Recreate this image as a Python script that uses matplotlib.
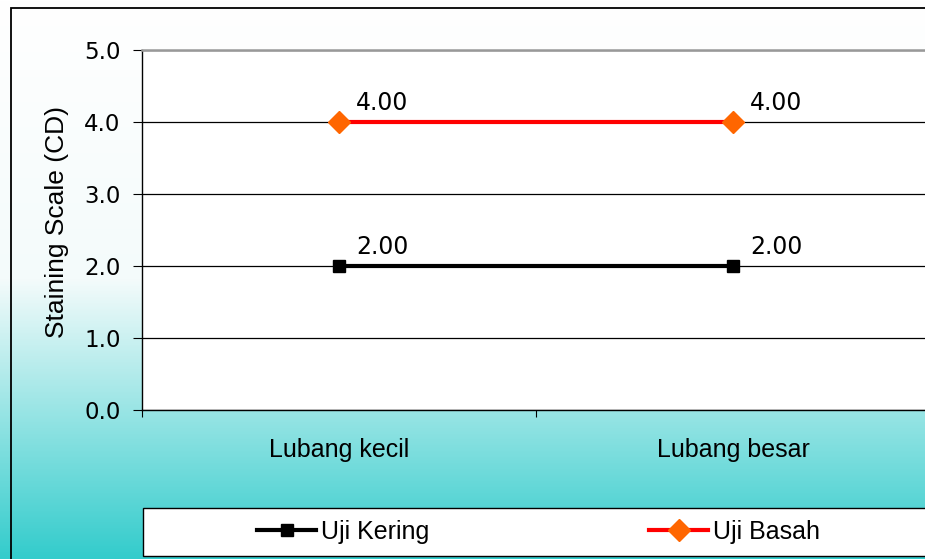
import numpy as np
import matplotlib
matplotlib.use('Agg')
import matplotlib.pyplot as plt
from matplotlib.colors import LinearSegmentedColormap
from matplotlib.patches import Rectangle

categories = ['Lubang kecil', 'Lubang besar']
uji_kering = [2.00, 2.00]
uji_basah = [4.00, 4.00]
y_ticks = [0.0, 1.0, 2.0, 3.0, 4.0, 5.0]

W, H = 925, 559
fig = plt.figure(figsize=(W / 100, H / 100), dpi=100)

# background gradient white -> teal
bg = fig.add_axes([0, 0, 1, 1], zorder=-10)
grad = np.linspace(0, 1, 256).reshape(-1, 1)
cmap = LinearSegmentedColormap.from_list('bg', ['#ffffff', '#f4fbfb', '#33cccc'], N=256)
bg.imshow(grad, aspect='auto', cmap=cmap, extent=[0, 1, 0, 1], origin='upper')
bg.set_xlim(0, 1)
bg.set_ylim(0, 1)
bg.axis('off')
bg.add_patch(Rectangle((11 / W, -0.1), 1.2, 1 - 8 / H + 0.1, fill=False,
                       edgecolor='black', linewidth=1.3))

# legend box
bg.add_patch(Rectangle((143 / W, (H - 556) / H), 1.2, 48 / H, facecolor='white',
                       edgecolor='black', linewidth=1.0, zorder=2))

ax = fig.add_axes([142 / W, (H - 410) / H, (930 - 142) / W, 360 / H])
x = np.arange(len(categories))
l1, = ax.plot(x, uji_kering, color='black', linewidth=3, marker='s',
              markersize=8.5, markerfacecolor='black', label='Uji Kering', zorder=3)
l2, = ax.plot(x, uji_basah, color='#ff0000', linewidth=3, marker='D',
              markersize=11, markerfacecolor='#ff6600', markeredgecolor='#ff6600',
              label='Uji Basah', zorder=3)

for vals in (uji_kering, uji_basah):
    for xi, v in zip(x, vals):
        ax.annotate(f'{v:.2f}', (xi, v), xytext=(12.5, 8.6), textcoords='offset points',
                    fontsize=17, family='DejaVu Sans', ha='left', va='baseline')

ax.set_xlim(-0.5, len(categories) - 0.5)
ax.set_ylim(0, 5)
ax.set_yticks(y_ticks)
ax.set_yticklabels([f'{t:.1f}' for t in y_ticks], fontsize=16.5, family='DejaVu Sans')
ax.set_xticks(x)
ax.set_xticklabels(categories, fontsize=18, family='Liberation Sans')
ax.set_xticks(np.arange(-0.5, len(categories)), minor=True)
ax.tick_params(axis='x', which='major', length=0, pad=20)
ax.tick_params(axis='x', which='minor', length=5, direction='out', width=0.8)
ax.tick_params(axis='y', length=6.5, direction='out', width=0.8, pad=9)
ax.grid(axis='y', color='black', linewidth=0.9)
ax.set_axisbelow(True)
ax.spines['top'].set_color('#999999')
ax.spines['top'].set_linewidth(1.8)
ax.spines['right'].set_visible(False)
ax.spines['left'].set_linewidth(1.0)
ax.spines['bottom'].set_linewidth(1.0)

fig.text(57 / W, 1 - 222 / H, 'Staining Scale (CD)', rotation=90, ha='center', va='center',
         fontsize=19, family='Liberation Sans')

leg = fig.legend(handles=[l1, l2], loc='center left', bbox_to_anchor=(257 / W, (H - 532) / H),
                 ncol=2, frameon=False, prop={'family': 'Liberation Sans', 'size': 18},
                 handlelength=2.36, handletextpad=0.2, columnspacing=8.8,
                 borderaxespad=0, borderpad=0)
leg.set_zorder(5)

fig.savefig('out.png', dpi=100)
